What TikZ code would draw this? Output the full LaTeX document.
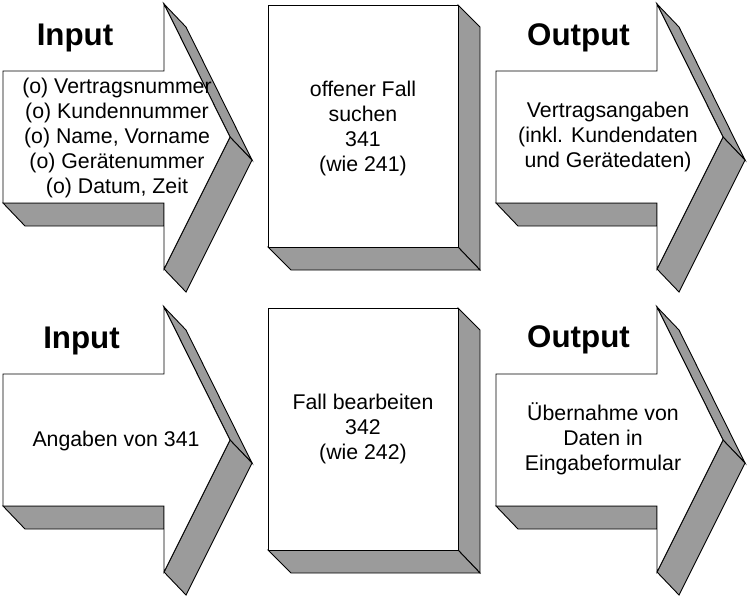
\documentclass[tikz,border=0pt]{standalone}
\usepackage{fontspec}
\setmainfont{Liberation Sans}
\definecolor{sidegray}{RGB}{155,155,155}
\tikzset{
  front/.style={draw=black,fill=white,line width=0.9pt,line join=miter},
  side/.style={draw=black,fill=sidegray,line width=0.9pt,line join=miter},
  title/.style={font=\fontsize{31.3}{36}\selectfont\bfseries,anchor=base,inner sep=0pt},
  body/.style={font=\fontsize{21.3}{25}\selectfont,align=center,inner sep=0pt}
}

\begin{document}
\begin{tikzpicture}[x=1pt,y=-1pt]
\useasboundingbox (0,0) rectangle (747,597);
\foreach \dx/\dy in {0/0,493/0,0/303,493/303}{
  \begin{scope}[shift={(\dx,\dy)}]
  \draw[side] (3,203) -- (164,203) -- (164,226) -- (25,226) -- cycle;
  \draw[side] (164,4) -- (186,27) -- (252,160) -- (230,137) -- cycle;
  \draw[side] (230,137) -- (252,160) -- (186,292) -- (164,269) -- cycle;
  \draw[front] (3,71) -- (164,71) -- (164,4) -- (230,137) -- (164,269) -- (164,203) -- (3,203) -- cycle;
  \end{scope}
}
\foreach \dy in {0,303}{
  \begin{scope}[shift={(0,\dy)}]
  \draw[side] (458,5) -- (480,27) -- (480,270) -- (458,247) -- cycle;
  \draw[side] (268,247) -- (458,247) -- (480,270) -- (291,270) -- cycle;
  \draw[front] (268,5) rectangle (458,247);
  \end{scope}
}
\node[title] (in1) at (75,45) {Input};
\node[title] (out1) at (578.5,45) {Output};
\node[title] (in2) at (81.5,348) {Input};
\node[title] (out2) at (578.5,347) {Output};
\node[body] (indata1) at (117,138) {(o) Vertragsnummer\\(o) Kundennummer\\(o) Name, Vorname\\(o) Gerätenummer\\(o) Datum, Zeit};
\node[body] (proc1) at (363,128) {offener Fall\\suchen\\341\\(wie 241)};
\node[body] (outdata1) at (608,137) {Vertragsangaben\\(inkl. Kundendaten\\und Gerätedaten)};
\node[body] (indata2) at (116,441) {Angaben von 341};
\node[body] (proc2) at (363,429) {Fall bearbeiten\\342\\(wie 242)};
\node[body] (outdata2) at (603,439) {Übernahme von\\Daten in\\Eingabeformular};
\end{tikzpicture}
\end{document}
